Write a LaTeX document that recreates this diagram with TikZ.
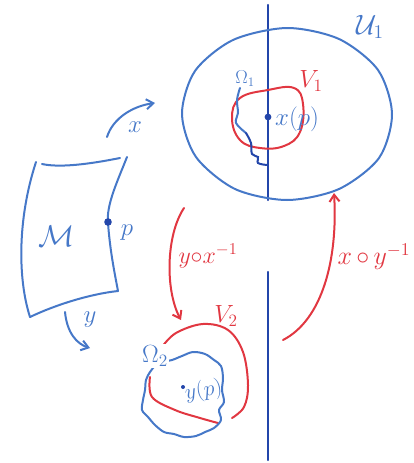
\documentclass[tikz,border=0pt]{standalone}
\usetikzlibrary{arrows.meta}
\definecolor{penblue}{RGB}{70,120,200}
\definecolor{darkblue}{RGB}{35,70,170}
\definecolor{penred}{RGB}{225,55,65}
\begin{document}
\begin{tikzpicture}[x=1pt,y=-1pt,
  bl/.style={penblue,line width=2pt,line cap=round,line join=round},
  db/.style={darkblue,line width=2.2pt,line cap=round},
  rd/.style={penred,line width=2pt,line cap=round,line join=round},
  arr/.style={-{Straight Barb[length=7pt,width=10pt]}},
  lab/.style={font=\huge, inner sep=0pt}]
\useasboundingbox (0,0) rectangle (413,463);
% axes
\draw[db] (268,5) -- (268,200);
\draw[db] (268,272) -- (268,460);
% U1
\draw[bl] plot[smooth cycle] coordinates {(287,28) (339,39) (378,70) (392,114) (379,158) (339,189) (287,200) (235,189) (196,157) (182,114) (195,71) (233,40)};
\node[lab,penblue,scale=1.35] (U1) at (370,27) {$\mathcal{U}_1$};
% V1
\draw[rd] plot[smooth cycle,tension=0.7] coordinates {(268,90) (294,88) (303,104) (300,132) (284,146) (260,148) (240,140) (232,118) (240,98)};
\node[lab,penred,scale=1.2] (V1) at (311,81) {$V_1$};
% Omega1
\draw[bl] plot[smooth,tension=0.6] coordinates {(240,88) (237,100) (238,113) (236,123) (246,133)};
\draw[db,line width=2pt] plot[smooth,tension=0.6] coordinates {(246,133) (251,143) (252,154) (258,157) (258,163) (267,165)};
\node[lab,penblue,scale=0.9] (O1) at (245,79) {$\Omega_1$};
% x(p)
\fill[darkblue] (268,117) circle (3.4pt) coordinate (xp);
\node[lab,penblue,anchor=west,scale=1.2] (xpl) at (275,119) {$x(p)$};
% Manifold
\draw[bl] (42,164) .. controls (60,168) and (90,164) .. (120,158);
\draw[bl] (127,157) .. controls (118,180) and (106,205) .. (108,223) .. controls (110,250) and (114,270) .. (118,291);
\draw[bl] (118,291) .. controls (90,294) and (55,305) .. (30,317);
\draw[bl] (30,317) .. controls (18,280) and (17,220) .. (36,162);
\node[lab,penblue,scale=1.45] (M) at (57,236) {$\mathcal{M}$};
\fill[darkblue] (108,222) circle (3.8pt) coordinate (p);
\node[lab,penblue,scale=1.2] (pl) at (127,233) {$p$};
% chart arrows
\coordinate (xs) at (107,137); \coordinate (xe) at (155,103);
\draw[bl,arr] (xs) .. controls (113,118) and (133,106) .. (xe);
\node[lab,penblue,scale=1.2] (xl) at (135,127) {$x$};
\coordinate (ys) at (65,312); \coordinate (ye) at (90,348);
\draw[bl,arr] (ys) .. controls (67,333) and (77,344) .. (ye);
\node[lab,penblue,scale=1.2] (yl) at (90,320) {$y$};
% transition maps
\coordinate (a1) at (184,208); \coordinate (a2) at (181,320);
\draw[rd,arr] (a1) .. controls (166,235) and (165,290) .. (a2);
\node[lab,penred,scale=1.15] (yx) at (208,256) {$y{\circ}x^{-1}$};
\coordinate (b1) at (283,340); \coordinate (b2) at (334,193);
\draw[rd,arr] (b1) .. controls (322,320) and (338,260) .. (b2);
\node[lab,penred,scale=1.25] (xy) at (374,257) {$x\,{\circ}\,y^{-1}$};
% V2
\draw[rd] plot[smooth,tension=0.6] coordinates {(162,347) (176,333) (203,324) (228,330) (243,352) (248,385) (244,407) (232,418)};
\draw[rd] plot[smooth,tension=0.6] coordinates {(150,377) (152,397) (175,410) (200,418) (218,423)};
\node[lab,penred,scale=1.2] (V2) at (226,316) {$V_2$};
% Omega2
\draw[bl] plot[smooth cycle,tension=0.55] coordinates {(172,360) (182,356) (193,352) (205,354) (214,360) (221,366) (223,378) (222,390) (224,402) (219,410) (221,420) (214,428) (205,432) (196,436) (184,437) (174,434) (164,432) (155,425) (148,417) (142,410) (143,400) (145,390) (146,380) (150,372) (156,365) (163,362)};
\node[lab,penblue,fill=white,inner sep=1pt,scale=1.2] (O2) at (155,356) {$\Omega_2$};
\fill[darkblue] (183,387) circle (2pt) coordinate (yp);
\node[lab,penblue,anchor=west,rotate=10,scale=1.05] (ypl) at (185,394) {$y(p)$};
\end{tikzpicture}
\end{document}
